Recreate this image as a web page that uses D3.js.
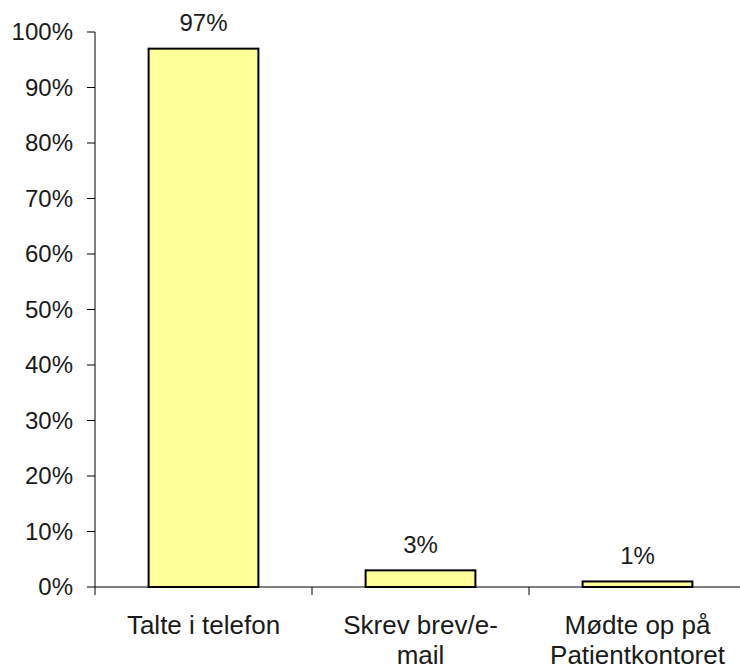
<!DOCTYPE html>
<html><head><meta charset="utf-8">
<script src="https://cdn.jsdelivr.net/npm/d3@7"></script>
<style>body{margin:0;background:#fff}text{font-family:"Liberation Sans",Arial,sans-serif;fill:#1a1a1a}</style>
</head><body><svg id="c" width="740" height="670"></svg>
<script>
const categories = [["Talte i telefon"], ["Skrev brev/e-", "mail"], ["Mødte op på", "Patientkontoret"]];
const values = [0.97, 0.03, 0.01];
const valueLabels = ["97%", "3%", "1%"];
const yTicks = [0,0.1,0.2,0.3,0.4,0.5,0.6,0.7,0.8,0.9,1.0];

(function(){
const svg = d3.select("#c");
const mLeft = 95, mRight = 746, mTop = 32, mBottom = 587;
const x = d3.scaleBand().domain(d3.range(categories.length)).range([mLeft, mRight]).paddingInner(0).paddingOuter(0);
const y = d3.scaleLinear().domain([0,1]).range([mBottom, mTop]);
const fs = 24, fsx = 26;

svg.append("line").attr("x1",mLeft).attr("x2",mLeft).attr("y1",y(1)).attr("y2",y(0)).attr("stroke","#000");
yTicks.forEach(t=>{
  svg.append("line").attr("x1",mLeft-8).attr("x2",mLeft).attr("y1",y(t)).attr("y2",y(t)).attr("stroke","#000");
  svg.append("text").attr("x",mLeft-22).attr("y",y(t)).attr("dy","0.35em").attr("text-anchor","end").attr("font-size",fs).text(d3.format(".0%")(t));
});
svg.append("line").attr("x1",mLeft).attr("x2",740).attr("y1",y(0)).attr("y2",y(0)).attr("stroke","#000");
d3.range(categories.length+1).forEach(i=>{
  const xx = i<categories.length ? x(i) : mRight;
  svg.append("line").attr("x1",xx).attr("x2",xx).attr("y1",y(0)).attr("y2",y(0)+8).attr("stroke","#000");
});
const bw = x.bandwidth()*0.506;
values.forEach((v,i)=>{
  const cx = x(i)+x.bandwidth()/2;
  svg.append("rect").attr("x",cx-bw/2).attr("y",y(v)).attr("width",bw).attr("height",y(0)-y(v))
    .attr("fill","#FFFF99").attr("stroke","#000").attr("stroke-width",2);
  svg.append("text").attr("x",cx).attr("y",y(v)-26).attr("dy","0.35em").attr("text-anchor","middle").attr("font-size",fs).text(valueLabels[i]);
  categories[i].forEach((line,j)=>{
    svg.append("text").attr("x",cx).attr("y",y(0)+47+j*30).attr("text-anchor","middle").attr("font-size",fsx).text(line);
  });
});
})();
</script></body></html>
